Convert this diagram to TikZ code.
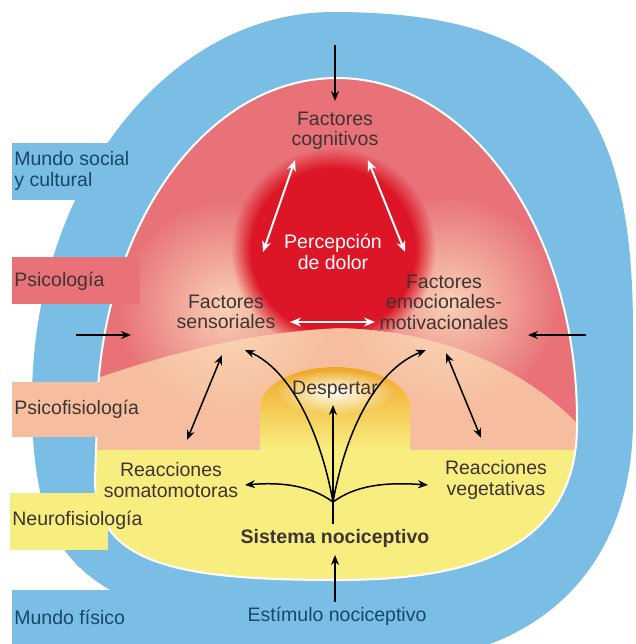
\documentclass[tikz,border=0pt]{standalone}
\usepackage{fontspec}
\setmainfont{Liberation Sans}
\usepackage{xcolor}
\usepackage{tikz}
\usetikzlibrary{
	arrows.meta,
	fadings
}
\definecolor{MundoBlue}{RGB}{122,190,230}
\definecolor{PsiPink}{RGB}{232,114,120}
\definecolor{PsiSalmon}{RGB}{246,190,158}
\definecolor{NeuroYellow}{RGB}{248,238,128}
\definecolor{DolorRed}{RGB}{220,22,38}
\definecolor{DespOrange}{RGB}{240,166,40}
\definecolor{GlowPeach}{RGB}{251,220,188}
\definecolor{TextGray}{RGB}{62,52,52}
\definecolor{TextBlue}{RGB}{22,72,104}
\tikzfading[name=glow, inner color=transparent!0, outer color=transparent!100]

\begin{document}
\begin{tikzpicture}[x=0.5pt, y=-0.5pt,
		lbl/.style={font=\fontsize{9.75}{10.25}\selectfont, text=TextGray, align=center, inner sep=0pt},
		flecha/.style={-{Stealth[length=5pt, width=4pt]}, line width=0.75pt},
		dflecha/.style={{Stealth[length=5pt, width=4pt]}-{Stealth[length=5pt, width=4pt]}, line width=0.75pt},
		bflecha/.style={{Stealth[length=5.5pt, width=4.5pt]}-{Stealth[length=5.5pt, width=4.5pt]}, white, line width=1pt}]
		\useasboundingbox (0,0) rectangle (636,644);
		
		% 外层：世界（蓝色）
		\fill[MundoBlue] (12,644) -- (12,590) -- (110,590) .. controls (60,560) and (32,520) .. (32,400)
			.. controls (32,186) and (167,12) .. (333,12) .. controls (560,12) and (633,100) .. (633,330)
			-- (633,420) .. controls (633,530) and (580,610) .. (490,644) -- cycle;
		\fill[MundoBlue] (12,143) rectangle (130,200);
		
		% 内层穹顶，按区域着色
		\begin{scope}
			\clip (97,420) .. controls (97,231) and (204,78) .. (337,78) .. controls (470,78) and (577,231) .. (577,420)
				.. controls (580,560) and (450,580) .. (337,580) .. controls (180,580) and (95,565) .. (95,480) -- cycle;
			\fill[PsiPink] (0,0) rectangle (636,644);
			\fill[PsiSalmon] (60,392) .. controls (180,345) and (280,330) .. (340,328)
				.. controls (440,330) and (540,370) .. (600,450) -- (600,600) -- (60,600) -- cycle;
			\fill[GlowPeach, fill opacity=0.9, path fading=glow] (226,308) circle (108);
			\fill[GlowPeach, fill opacity=0.9, path fading=glow] (450,303) circle (108);
			\begin{scope}
				\clip (0,0) -- (636,0) -- (636,450) -- (600,450) .. controls (540,370) and (440,330) .. (340,328)
					.. controls (280,330) and (180,345) .. (60,392) -- (0,392) -- cycle;
				\fill[DolorRed, path fading=circle with fuzzy edge 20 percent] (333,250) circle (102);
			\end{scope}
			\fill[NeuroYellow] (60,450) -- (260,450) -- (260,407) .. controls (260,385) and (294,367) .. (335,367)
				.. controls (376,367) and (410,385) .. (410,407) -- (410,450) -- (600,450) -- (600,600) -- (60,600) -- cycle;
			\shade[top color=DespOrange, middle color=NeuroYellow!70!DespOrange, bottom color=NeuroYellow]
				(260,450) -- (260,407) .. controls (260,385) and (294,367) .. (335,367)
				.. controls (376,367) and (410,385) .. (410,407) -- (410,450) -- cycle;
			\fill[white, path fading=glow] (335,392) ellipse (60 and 22);
		\end{scope}
		\draw[white, line width=1pt] (97,420) .. controls (97,231) and (204,78) .. (337,78) .. controls (470,78) and (577,231) .. (577,420)
			.. controls (580,560) and (450,580) .. (337,580) .. controls (180,580) and (95,565) .. (95,480) -- cycle;
		
		% 左侧标签框
		\fill[PsiPink] (12,257) rectangle (140,304);
		\fill[PsiSalmon] (12,382) rectangle (112,437);
		\fill[NeuroYellow] (10,493) rectangle (108,550);
		
		\node[lbl, anchor=west, align=left, text=TextBlue] (msoc) at (14,171) {Mundo social\\y cultural};
		\node[lbl, anchor=west] (psico) at (14,281) {Psicología};
		\node[lbl, anchor=west] (psicof) at (14,409) {Psicofisiología};
		\node[lbl, anchor=west] (neuro) at (12,520) {Neurofisiología};
		\node[lbl, anchor=west, text=TextBlue] (mfis) at (14,617) {Mundo físico};
		
		% 中间文字
		\node[lbl] (cog) at (335,131) {Factores\\cognitivos};
		\node[lbl, text=white] (perc) at (333,252) {Percepción\\de dolor};
		\node[lbl] (sens) at (226,312) {Factores\\sensoriales};
		\node[lbl] (emoc) at (444,302) {Factores\\emocionales-\\motivacionales};
		\node[lbl] (desp) at (335,390) {Despertar};
		\node[lbl] (soma) at (171,480) {Reacciones\\somatomotoras};
		\node[lbl] (veget) at (496,480) {Reacciones\\vegetativas};
		\node[lbl, font=\fontsize{9.75}{10.25}\selectfont\bfseries] (sist) at (335,538) {Sistema nociceptivo};
		\node[lbl, text=TextBlue] (estim) at (337,616) {Estímulo nociceptivo};
		
		\coordinate (topA) at (335,45);
		\coordinate (topB) at (335,101);
		\coordinate (izqA) at (76,335);
		\coordinate (izqB) at (131,335);
		\coordinate (derA) at (586,335);
		\coordinate (derB) at (528,335);
		\coordinate (infA) at (335,602);
		\coordinate (infB) at (335,555);
		\coordinate (cogL) at (295,160);
		\coordinate (cogR) at (368,160);
		\coordinate (percL) at (263,252);
		\coordinate (percR) at (405,252);
		\coordinate (sensR) at (290,322);
		\coordinate (emocL) at (375,322);
		\coordinate (sensB) at (222,355);
		\coordinate (emocB) at (446,353);
		\coordinate (somaT) at (187,440);
		\coordinate (vegT) at (481,438);
		\coordinate (nuc) at (333,502);
		\coordinate (tallo) at (333,524);
		\coordinate (sensF) at (245,350);
		\coordinate (emocF) at (426,350);
		\coordinate (despB) at (333,405);
		\coordinate (somaR) at (245,485);
		\coordinate (vegL) at (428,485);
		
		% 外部作用
		\draw[flecha] (topA) -- (topB);
		\draw[flecha] (izqA) -- (izqB);
		\draw[flecha] (derA) -- (derB);
		\draw[flecha] (infA) -- (infB);
		
		% 白色双向箭头
		\draw[bflecha] (cogL) -- (percL);
		\draw[bflecha] (cogR) -- (percR);
		\draw[bflecha] (sensR) -- (emocL);
		
		% 伤害感受系统的分支
		\draw[dflecha] (sensB) -- (somaT);
		\draw[dflecha] (emocB) -- (vegT);
		\draw[line width=0.75pt] (tallo) -- (nuc);
		\draw[flecha] (nuc) .. controls (320,430) and (290,370) .. (sensF);
		\draw[flecha] (nuc) .. controls (346,430) and (376,370) .. (emocF);
		\draw[flecha] (nuc) -- (despB);
		\draw[flecha] (nuc) .. controls (310,485) and (280,482) .. (somaR);
		\draw[flecha] (nuc) .. controls (356,485) and (386,482) .. (vegL);
	\end{tikzpicture}
\end{document}
